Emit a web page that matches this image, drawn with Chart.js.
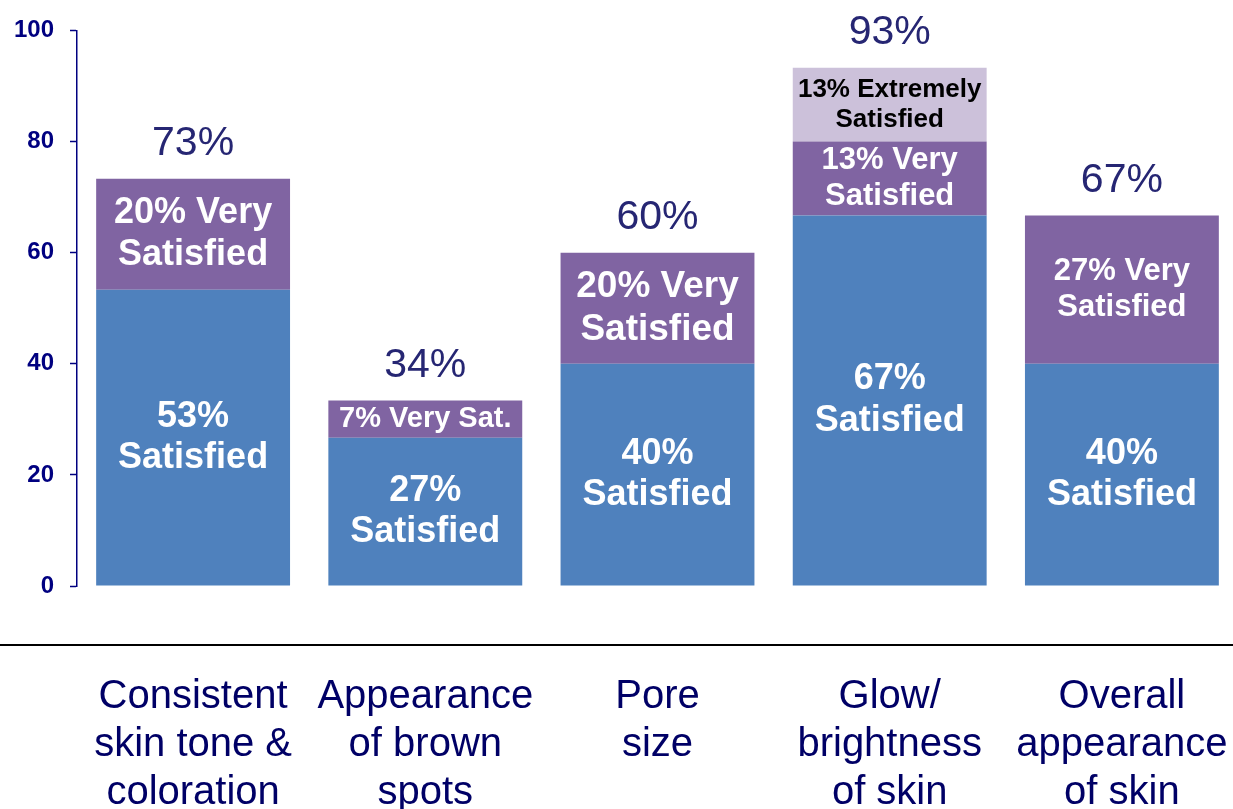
<!DOCTYPE html>
<html>
<head>
<meta charset="utf-8">
<script src="https://cdn.jsdelivr.net/npm/chart.js@4.4.1/dist/chart.umd.min.js"></script>
<style>
  html, body { margin: 0; padding: 0; background: #fff; overflow: hidden; }
  #wrap { width: 1240px; height: 809px; }
</style>
</head>
<body>
<div id="wrap"><canvas id="skinChart" width="1240" height="809"></canvas></div>
<script>
// カテゴリ（x軸ラベル、複数行）
const categories = [
  ['Consistent', 'skin tone &', 'coloration'],
  ['Appearance', 'of brown', 'spots'],
  ['Pore', 'size'],
  ['Glow/', 'brightness', 'of skin'],
  ['Overall', 'appearance', 'of skin']
];

// 各満足度の割合（%）
const satisfied = [53.3, 26.7, 40, 66.7, 40];
const verySatisfied = [20, 6.7, 20, 13.3, 26.7];
const extremelySatisfied = [null, null, null, 13.3, null];

// 棒の上の合計（表示値）
const totals = [73, 34, 60, 93, 67];

// 棒の中の文字
const satisfiedText = [
  ['53%', 'Satisfied'], ['27%', 'Satisfied'], ['40%', 'Satisfied'],
  ['67%', 'Satisfied'], ['40%', 'Satisfied']
];
const verySatisfiedText = [
  ['20% Very', 'Satisfied'], ['7% Very Sat.'], ['20% Very', 'Satisfied'],
  ['13% Very', 'Satisfied'], ['27% Very', 'Satisfied']
];
const extremelySatisfiedText = [null, null, null, ['13% Extremely', 'Satisfied'], null];

// y軸目盛り
const yTicks = [0, 20, 40, 60, 80, 100];

// 文字サイズ（データとは別管理）
const satisfiedFont = [36, 36, 36, 36, 36];
const veryFont = [36, 29, 37, 31, 31];
const extremeFont = [26, 26, 26, 26, 26];

const FONT = "'Liberation Sans', Arial, sans-serif";

/* ==================================================
  棒の中のラベル・合計値を描画するプラグイン
================================================== */
const segmentLabels = {
  id: 'segmentLabels',
  afterDatasetsDraw(chart) {
    const ctx = chart.ctx;
    ctx.save();
    ctx.textAlign = 'center';
    ctx.textBaseline = 'middle';
    chart.data.datasets.forEach((ds, di) => {
      const meta = chart.getDatasetMeta(di);
      ds.data.forEach((v, i) => {
        if (v == null || !ds.texts[i]) return;
        const bar = meta.data[i];
        const size = ds.fonts[i];
        const lh = size * 1.16;
        const lines = ds.texts[i];
        const cy = (bar.y + bar.base) / 2;
        ctx.font = `bold ${size}px ${FONT}`;
        ctx.fillStyle = ds.textColor;
        lines.forEach((t, li) => {
          ctx.fillText(t, bar.x, cy + (li - (lines.length - 1) / 2) * lh);
        });
      });
    });
    // 合計値
    totals.forEach((total, i) => {
      let top = Infinity, x = 0;
      chart.data.datasets.forEach((ds, di) => {
        if (ds.data[i] == null) return;
        const bar = chart.getDatasetMeta(di).data[i];
        top = Math.min(top, bar.y);
        x = bar.x;
      });
      ctx.font = `41px ${FONT}`;
      ctx.fillStyle = '#262673';
      ctx.fillText(total + '%', x, top - 35);
    });
    ctx.restore();
  },
  // x軸ラベル上の横線
  afterDraw(chart) {
    const ctx = chart.ctx;
    const y = chart.scales.x.top + 59;
    ctx.save();
    ctx.strokeStyle = '#000';
    ctx.lineWidth = 2;
    ctx.beginPath();
    ctx.moveTo(0, y);
    ctx.lineTo(chart.width, y);
    ctx.stroke();
    ctx.restore();
  }
};

const ctx = document.getElementById('skinChart').getContext('2d');
new Chart(ctx, {
  type: 'bar',
  data: {
    labels: categories,
    datasets: [
      { label: 'Satisfied', data: satisfied, backgroundColor: '#4F81BD',
        texts: satisfiedText, fonts: satisfiedFont, textColor: '#FFFFFF' },
      { label: 'Very Satisfied', data: verySatisfied, backgroundColor: '#8064A2',
        texts: verySatisfiedText, fonts: veryFont, textColor: '#FFFFFF' },
      { label: 'Extremely Satisfied', data: extremelySatisfied, backgroundColor: '#CCC1DA',
        texts: extremelySatisfiedText, fonts: extremeFont, textColor: '#000000' }
    ]
  },
  options: {
    responsive: false,
    animation: false,
    layout: { padding: { top: 12, right: 2, left: 0, bottom: 0 } },
    datasets: { bar: { categoryPercentage: 1, barPercentage: 0.835 } },
    plugins: { legend: { display: false }, tooltip: { enabled: false } },
    scales: {
      x: {
        stacked: true,
        grid: { display: false, drawTicks: false },
        border: { display: false },
        ticks: {
          color: '#000066', padding: 87, maxRotation: 0, autoSkip: false,
          font: { family: FONT, size: 40, lineHeight: 1.2 }
        },
        afterFit: (s) => { s.height = 223; s.paddingLeft = 0; s.paddingRight = 0; }
      },
      y: {
        stacked: true,
        min: 0, max: 100,
        afterBuildTicks: (s) => { s.ticks = yTicks.map(v => ({ value: v })); },
        grid: { drawOnChartArea: false, tickLength: 7, tickColor: '#000080', tickWidth: 1.5 },
        border: { color: '#000080', width: 1.5 },
        ticks: { color: '#000080', padding: 16, font: { family: FONT, size: 24, weight: 'bold' } },
        afterFit: (s) => { s.width = 77; }
      }
    }
  },
  plugins: [segmentLabels]
});
</script>
</body>
</html>
